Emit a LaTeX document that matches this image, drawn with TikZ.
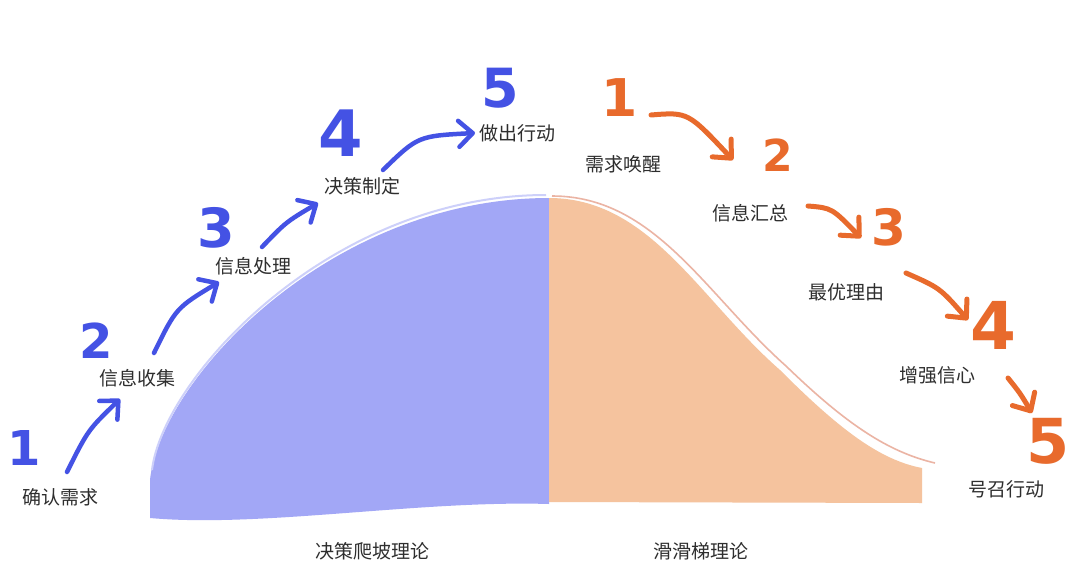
\documentclass[tikz,border=0pt]{standalone}
\usepackage{fontspec}
\newfontfamily\cjk{Noto Sans CJK SC}
\newfontfamily\numfont{DejaVu Sans}
\usetikzlibrary{arrows.meta}
\definecolor{bluefill}{HTML}{A2A7F6}
\definecolor{bluerim}{HTML}{CDD0FA}
\definecolor{blueink}{HTML}{4452E4}
\definecolor{orangefill}{HTML}{F5C39E}
\definecolor{orangerim}{HTML}{EBB4A4}
\definecolor{orangeink}{HTML}{E86A2C}
\definecolor{txt}{HTML}{2E2E2E}
\tikzset{
  lbl/.style={font=\cjk\fontsize{19}{19}\selectfont, text=txt, inner sep=0pt, anchor=center},
  bnum/.style={font=\numfont\bfseries\fontsize{#1}{#1}\selectfont, text=blueink, inner sep=0pt, anchor=center},
  onum/.style={font=\numfont\bfseries\fontsize{#1}{#1}\selectfont, text=orangeink, inner sep=0pt, anchor=center},
  barrow/.style={draw=blueink, line width=4.5pt, line cap=round, line join=round,
    -{Straight Barb[length=14pt,width=26pt,round]}},
  oarrow/.style={draw=orangeink, line width=5pt, line cap=round, line join=round,
    -{Straight Barb[length=14pt,width=26pt,round]}}
}
\begin{document}
\begin{tikzpicture}[x=1pt,y=-1pt]
\useasboundingbox (0,0) rectangle (1080,574);
\fill[white] (0,0) rectangle (1080,574);
% blue hill half
\fill[bluefill] (150,480) .. controls (160,380) and (330,198) .. (549,198)
  -- (549,504) .. controls (420,500) and (260,528) .. (150,518) -- cycle;
\draw[bluerim, line width=2pt] (152,470) .. controls (163,378) and (330,195) .. (546,195);
% orange slide half
\fill[orangefill] (549,198) .. controls (650,198) and (700,300) .. (780,370)
  .. controls (840,430) and (880,460) .. (922,468) -- (922,503) -- (549,502) -- cycle;
\draw[orangerim, line width=1.6pt] (552,196) .. controls (655,196) and (706,295) .. (786,366)
  .. controls (846,424) and (888,452) .. (935,463);
% bottom labels
\node[lbl] (tl) at (372,551) {决策爬坡理论};
\node[lbl] (tr) at (701,551) {滑滑梯理论};
% blue steps
\node[bnum=48] (b1) at (24,448) {1};
\node[lbl] (bl1) at (61,497) {确认需求};
\node[bnum=48] (b2) at (96,341) {2};
\node[lbl] (bl2) at (137,378) {信息收集};
\node[bnum=54] (b3) at (216,228) {3};
\node[lbl] (bl3) at (253,266) {信息处理};
\node[bnum=64] (b4) at (341,133) {4};
\node[lbl] (bl4) at (362,186) {决策制定};
\node[bnum=54] (b5) at (500,88) {5};
\node[lbl] (bl5) at (517,133) {做出行动};
% orange steps
\node[onum=52] (o1) at (620,98) {1};
\node[lbl] (ol1) at (623,164) {需求唤醒};
\node[onum=44] (o2) at (778,155) {2};
\node[lbl] (ol2) at (750,213) {信息汇总};
\node[onum=50] (o3) at (889,227) {3};
\node[lbl] (ol3) at (846,292) {最优理由};
\node[onum=66] (o4) at (993,325) {4};
\node[lbl] (ol4) at (937,375) {增强信心};
\node[onum=62] (o5) at (1048,441) {5};
\node[lbl] (ol5) at (1006,489) {号召行动};
% arrow end points
\coordinate (ba1s) at (67,472);  \coordinate (ba1e) at (120,399);
\coordinate (ba2s) at (154,353); \coordinate (ba2e) at (219,282);
\coordinate (ba3s) at (262,247); \coordinate (ba3e) at (318,203);
\coordinate (ba4s) at (383,170); \coordinate (ba4e) at (475,133);
\coordinate (oa1s) at (651,115); \coordinate (oa1e) at (733,160);
\coordinate (oa2s) at (808,206); \coordinate (oa2e) at (861,238);
\coordinate (oa3s) at (906,273); \coordinate (oa3e) at (968,320);
\coordinate (oa4s) at (1008,378); \coordinate (oa4e) at (1032,413);
% blue arrows
\draw[barrow] (ba1s) .. controls (88,430) .. (ba1e);
\draw[barrow] (ba2s) .. controls (176,308) .. (ba2e);
\draw[barrow] (ba3s) .. controls (286,222) .. (ba3e);
\draw[barrow] (ba4s) .. controls (418,136) .. (ba4e);
% orange arrows
\draw[oarrow] (oa1s) .. controls (688,112) .. (oa1e);
\draw[oarrow] (oa2s) .. controls (832,208) .. (oa2e);
\draw[oarrow] (oa3s) .. controls (940,288) .. (oa3e);
\draw[oarrow] (oa4s) .. controls (1020,393) .. (oa4e);
\end{tikzpicture}
\end{document}
